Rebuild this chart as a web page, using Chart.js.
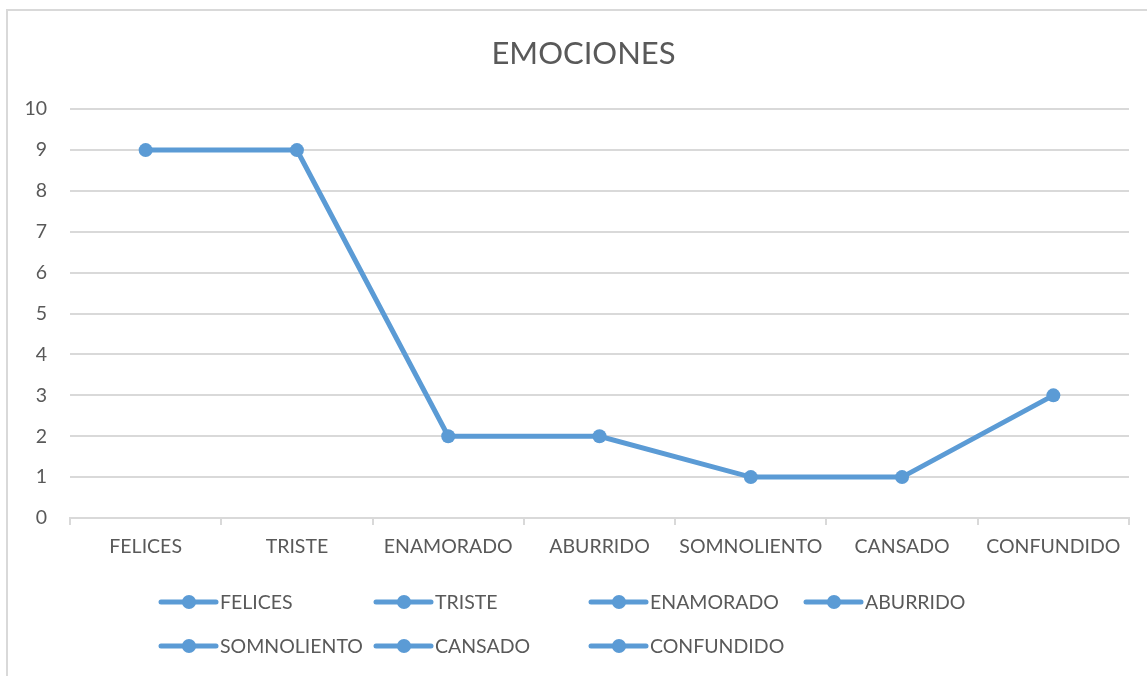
<!DOCTYPE html>
<html>
<head>
<meta charset="utf-8">
<script src="https://cdn.jsdelivr.net/npm/chart.js@4"></script>
<style>
  html, body { margin: 0; padding: 0; background: #fff; }
  #wrap { width: 1147px; height: 676px; position: relative; }
</style>
</head>
<body>
<div id="wrap"><canvas id="plot1"></canvas></div>
<script>
// datos del grafico
let categorias = ['FELICES', 'TRISTE', 'ENAMORADO', 'ABURRIDO', 'SOMNOLIENTO', 'CANSADO', 'CONFUNDIDO'];
let valores = [9, 9, 2, 2, 1, 1, 3];
let titulo = 'EMOCIONES';

let AZUL = '#5b9bd5';
let GRIS_TEXTO = '#595959';
let GRIS_LINEA = '#d9d9d9';
let FUENTE = 'Lato, "Open Sans", sans-serif';

// borde del area del grafico (estilo Excel) y titulo centrado en el marco
let bordePlugin = {
  id: 'borde',
  afterLayout(chart) {
    // el titulo de Excel se centra sobre el marco, no sobre el lienzo
    if (chart.titleBlock) chart.titleBlock.left = 38;
  },
  beforeDraw(chart) {
    let ctx = chart.ctx;
    ctx.save();
    ctx.strokeStyle = GRIS_LINEA;
    ctx.lineWidth = 2;
    ctx.strokeRect(7, 10, chart.width + 10, chart.height + 10);
    ctx.restore();
  }
};

// leyenda en grilla de 4 columnas, cada punto como entrada
let leyendaPlugin = {
  id: 'leyendaGrilla',
  afterDraw(chart) {
    let ctx = chart.ctx;
    let columnas = 4;
    let anchoCol = 215;
    let x0 = 161;
    let y0 = chart.chartArea.bottom + 84;
    let altoFila = 44;
    ctx.save();
    ctx.font = '19.5px ' + FUENTE;
    ctx.textBaseline = 'middle';
    ctx.textAlign = 'left';
    categorias.forEach((nombre, i) => {
      let x = x0 + (i % columnas) * anchoCol;
      let y = y0 + Math.floor(i / columnas) * altoFila;
      ctx.strokeStyle = AZUL;
      ctx.lineWidth = 5;
      ctx.lineCap = 'round';
      ctx.beginPath();
      ctx.moveTo(x, y);
      ctx.lineTo(x + 55, y);
      ctx.stroke();
      ctx.fillStyle = AZUL;
      ctx.beginPath();
      ctx.arc(x + 28, y, 7, 0, Math.PI * 2);
      ctx.fill();
      ctx.fillStyle = GRIS_TEXTO;
      ctx.fillText(nombre, x + 59, y + 1);
    });
    ctx.restore();
  }
};

let plotRef = document.getElementById('plot1');

let config = {
  type: 'line',
  data: {
    labels: categorias,
    datasets: [
      {
        label: titulo,
        data: valores,
        fill: false,
        borderColor: AZUL,
        backgroundColor: AZUL,
        borderWidth: 5,
        pointRadius: 7,
        pointHoverRadius: 7,
        pointBackgroundColor: AZUL,
        pointBorderWidth: 0,
        tension: 0
      }
    ]
  },
  options: {
    responsive: true,
    maintainAspectRatio: false,
    animation: false,
    layout: { padding: { left: 0, right: 18, top: 0, bottom: 98 } },
    plugins: {
      legend: { display: false },
      tooltip: { enabled: false },
      title: {
        display: true,
        text: titulo,
        color: GRIS_TEXTO,
        font: { family: FUENTE, size: 31, weight: 'normal' },
        padding: { top: 35, bottom: 37 }
      }
    },
    scales: {
      x: {
        offset: true,
        afterFit: (scale) => { scale.height = 60; },
        grid: {
          offset: true,
          drawOnChartArea: false,
          drawTicks: true,
          tickLength: 7,
          color: GRIS_LINEA,
          lineWidth: 2
        },
        border: { display: true, color: GRIS_LINEA, width: 2 },
        ticks: {
          color: GRIS_TEXTO,
          font: { family: FUENTE, size: 19.5 },
          padding: 10,
          maxRotation: 0,
          autoSkip: false
        }
      },
      y: {
        min: 0,
        max: 10,
        afterFit: (scale) => { scale.width = 70; },
        grid: { color: GRIS_LINEA, lineWidth: 2, drawTicks: false },
        border: { display: false },
        ticks: {
          stepSize: 1,
          color: GRIS_TEXTO,
          font: { family: FUENTE, size: 19.5 },
          padding: 23
        }
      }
    }
  },
  plugins: [bordePlugin, leyendaPlugin]
};

let chart1 = new Chart(plotRef, config);
</script>
</body>
</html>
